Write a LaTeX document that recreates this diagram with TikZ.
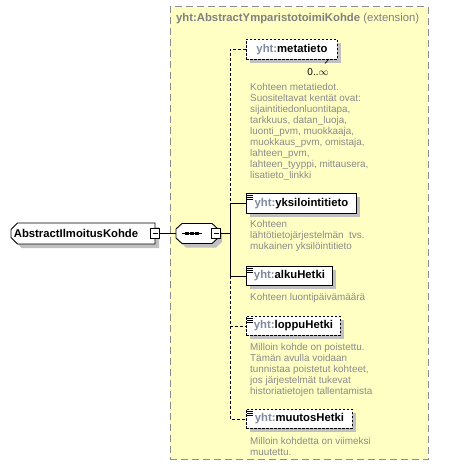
\documentclass[tikz,border=0pt]{standalone}
\usepackage{fontspec}
\setmainfont{Liberation Sans}
\usetikzlibrary{shapes.misc,shadows}
\definecolor{boxyellow}{HTML}{FFFFC4}
\definecolor{boxborder}{HTML}{8C8C8C}
\definecolor{shadowgray}{HTML}{C0C0C0}
\definecolor{nsgray}{HTML}{7F8A9C}
\definecolor{descgray}{HTML}{8A8A8A}
\definecolor{titlegray}{HTML}{7F7F7F}
\newcommand{\ns}{\textcolor{nsgray}{yht:}}
\begin{document}
\begin{tikzpicture}[x=1pt,y=-1pt,
  elemfont/.style={font=\fontsize{11.3}{13}\selectfont\bfseries},
  descfont/.style={font=\fontsize{9.9}{11}\selectfont, text=descgray},
  elem/.style={draw=black, fill=white, line width=0.9pt, anchor=north west, inner sep=0pt, elemfont,
    general shadow={fill=shadowgray, shadow xshift=4pt, shadow yshift=-4pt}},
  optelem/.style={elem, dash pattern=on 2.5pt off 1.5pt},
  desc/.style={descfont, anchor=north west, align=left, inner sep=0pt},
  minusbox/.style={draw=black, fill=white, line width=0.8pt, minimum width=9pt, minimum height=10pt, inner sep=0pt},
  conn/.style={line width=0.9pt},
  optconn/.style={line width=0.9pt, dash pattern=on 3pt off 2pt},
  iconline/.style={line width=0.7pt}
]
\useasboundingbox (0,0) rectangle (449,475);

% extension box
\node[draw=boxborder, fill=boxyellow, line width=1.3pt, dash pattern=on 7pt off 4pt,
  minimum width=258pt, minimum height=453pt, anchor=north west, inner sep=0pt] (ext) at (169.5,6) {};
\node[anchor=west, inner sep=0pt, text=titlegray, font=\fontsize{11.3}{13}\selectfont] (title) at (176,19)
  {\textbf{yht:AbstractYmparistotoimiKohde} (extension)};

% main element
\node[draw=black, fill=white, line width=0.9pt, chamfered rectangle, chamfered rectangle corners={north west,south west},
  chamfered rectangle xsep=3pt, minimum width=144pt, minimum height=21pt, inner sep=0pt, elemfont,
  general shadow={fill=shadowgray, shadow xshift=4pt, shadow yshift=-4pt}] (abs) at (83,233.5) {\hspace*{-14pt}AbstractIlmoitusKohde};
\node[minusbox] (m1) at (155,233.5) {};
\draw[line width=0.8pt] ([xshift=-2.5pt]m1.center) -- ([xshift=2.5pt]m1.center);

% sequence compositor
\node[minimum width=42pt, minimum height=20pt, inner sep=0pt] (seq) at (197,233.5) {};
\fill[shadowgray] (180,233) -- (186,227.5) -- (216,227.5) -- (222,233) -- (222,242) -- (216,247.5) -- (186,247.5) -- (180,242) -- cycle;
\draw[line width=0.9pt, fill=white] (176,229) -- (182,223.5) -- (212,223.5) -- (218,229) -- (218,238) -- (212,243.5) -- (182,243.5) -- (176,238) -- cycle;
\draw[line width=0.9pt] (181.5,233.5) -- (202,233.5);
\foreach \xx in {187,192,197} \fill (\xx-1.9,231.6) rectangle (\xx+1.9,235.4);
\node[minusbox] (m2) at (216,233.5) {};
\draw[line width=0.8pt] ([xshift=-2.5pt]m2.center) -- ([xshift=2.5pt]m2.center);

\draw[conn] (m1.east) -- (seq.west);
\coordinate (bus) at (230,233.5);
\draw[conn] (m2.east) -- (bus);

% child elements
\node[optelem, minimum width=91pt, minimum height=20pt] (meta) at (246,39) {\ns metatieto};
\node[elem, minimum width=110pt, minimum height=20pt] (yks) at (246,193) {\ns yksilointitieto};
\node[elem, minimum width=86pt, minimum height=19pt] (alku) at (246,266) {\ns alkuHetki};
\node[optelem, minimum width=94pt, minimum height=19pt] (loppu) at (246,316) {\ns loppuHetki};
\node[optelem, minimum width=106pt, minimum height=19pt] (muutos) at (246,409) {\ns muutosHetki};

% reference marker & multiplicity
\draw[line width=0.7pt] (329,59) -- (325,63.5);
\node[inner sep=0pt, font=\fontsize{10}{12}\selectfont] (mult) at (318,72.5) {0..$\infty$};

% icons
\foreach \n in {yks,alku,loppu,muutos}{
  \foreach \dy in {2,4,6}
    \draw[iconline] ([xshift=1pt,yshift=-\dy pt]\n.north west) -- ([xshift=6.5pt,yshift=-\dy pt]\n.north west);
}

% connectors
\draw[optconn] (meta.west) -- (meta.west -| bus) -- (yks.west -| bus);
\draw[conn] (yks.west -| bus) -- (yks.west);
\draw[conn] (yks.west -| bus) -- (alku.west -| bus) -- (alku.west);
\draw[optconn] (alku.west -| bus) -- (muutos.west -| bus) -- (muutos.west);
\draw[optconn] (loppu.west -| bus) -- (loppu.west);

% descriptions
\node[desc] (d1) at (250,83) {Kohteen metatiedot.\\Suositeltavat kentät ovat:\\sijaintitiedonluontitapa,\\tarkkuus, datan\_luoja,\\luonti\_pvm, muokkaaja,\\muokkaus\_pvm, omistaja,\\lahteen\_pvm,\\lahteen\_tyyppi, mittausera,\\lisatieto\_linkki};
\node[desc] (d2) at (250,220) {Kohteen\\lähtötietojärjestelmän\ \ tvs.\\mukainen yksilöintitieto};
\node[desc] (d3) at (250,293) {Kohteen luontipäivämäärä};
\node[desc] (d4) at (250,343) {Milloin kohde on poistettu.\\Tämän avulla voidaan\\tunnistaa poistetut kohteet,\\jos järjestelmät tukevat\\historiatietojen tallentamista};
\node[desc] (d5) at (250,437) {Milloin kohdetta on viimeksi\\muutettu.};
\end{tikzpicture}
\end{document}
